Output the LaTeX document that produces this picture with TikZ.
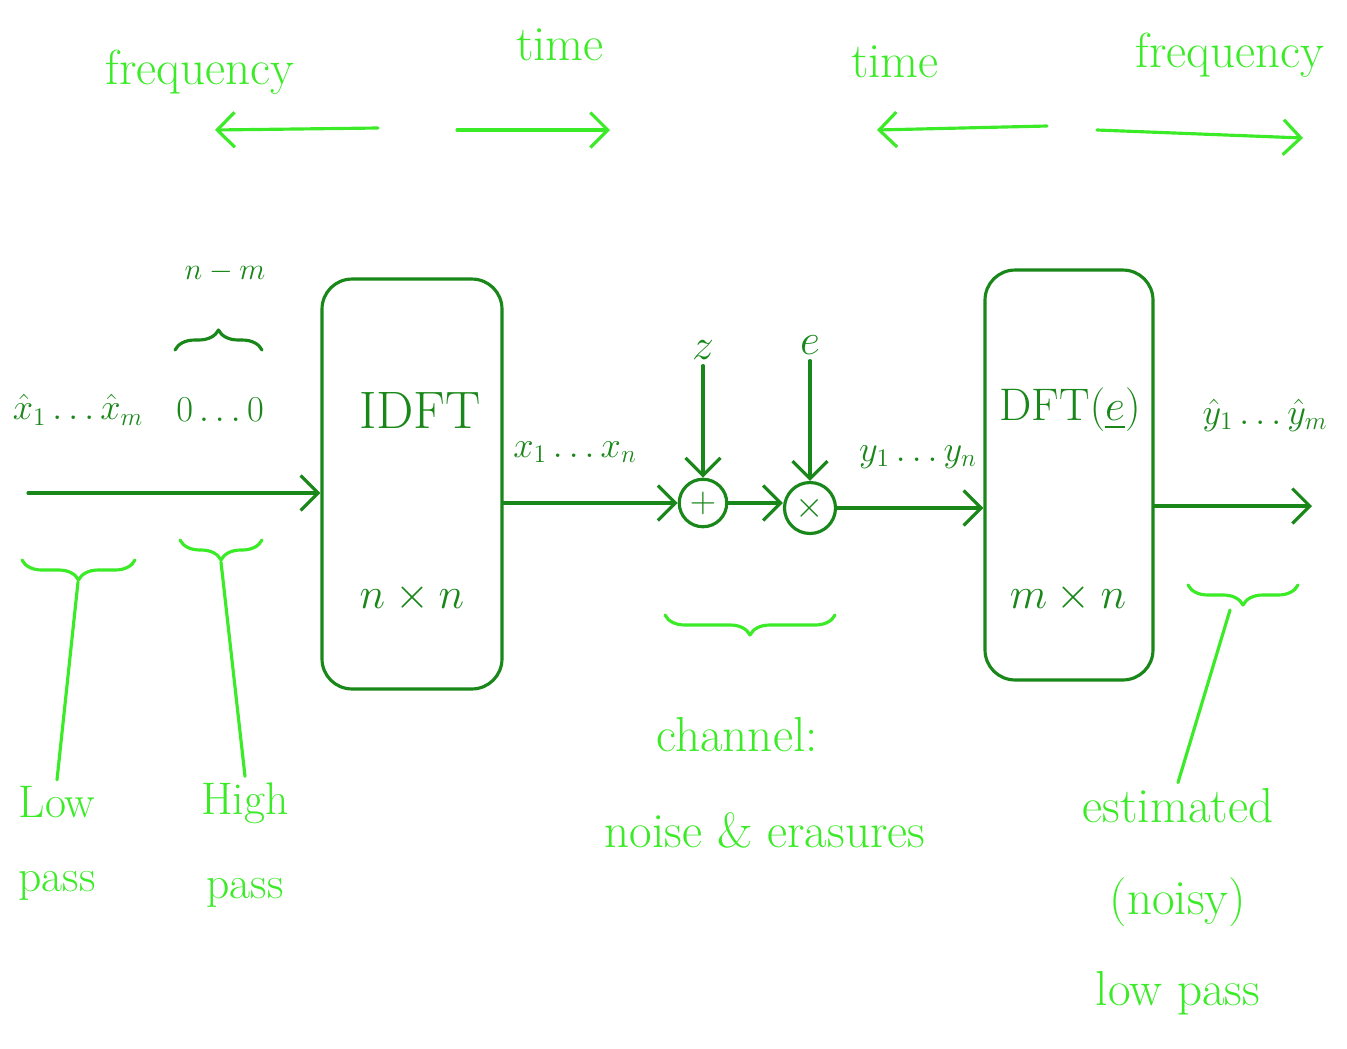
\documentclass[tikz,border=0pt]{standalone}
\usepackage{amsmath}
\usetikzlibrary{arrows.meta,positioning,decorations.pathreplacing}
\definecolor{lgr}{RGB}{60,235,40}
\definecolor{dgr}{RGB}{25,135,25}

\begin{document}
\begin{tikzpicture}[x=0.02cm,y=-0.02cm,
  pen/.style={line width=1.8pt,line cap=round,line join=round},
  arr/.style={pen,-{Straight Barb[length=3.5mm,width=7mm]}},
  lbl/.style={text=lgr,font=\fontsize{28}{32}\selectfont,align=center},
  sym/.style={text=dgr,font=\fontsize{28}{32}\selectfont},
  var/.style={text=dgr,font=\fontsize{21}{24}\selectfont},
  blk/.style={draw=dgr,pen,rounded corners=0.6cm,minimum width=3.6cm,minimum height=8.2cm},
  op/.style={draw=dgr,pen,circle,minimum size=0.95cm,inner sep=0pt,text=dgr,font=\fontsize{20}{22}\selectfont},
  brc/.style={pen,decorate,decoration={brace,amplitude=0.4cm}}]
  \useasboundingbox (0,0) rectangle (1347,1049);
  % time / frequency directions
  \node[lbl] (f1) at (200,72) {frequency};
  \node[lbl] (t1) at (560,45) {time};
  \node[lbl] (t2) at (895,62) {time};
  \node[lbl] (f2) at (1230,55) {frequency};
  \coordinate (a1) at (378,128); \coordinate (b1) at (215,130);
  \coordinate (a2) at (457,130); \coordinate (b2) at (610,130);
  \coordinate (a3) at (1047,126); \coordinate (b3) at (877,130);
  \coordinate (a4) at (1097,130); \coordinate (b4) at (1303,138);
  \foreach \i in {1,...,4} \draw[arr,lgr] (a\i) -- (b\i);
  % transforms
  \node[blk] (idft) at (412,484) {};
  \node[sym,font=\fontsize{30}{34}\selectfont] (idftt) at (420,410) {IDFT};
  \node[sym,font=\fontsize{32}{36}\selectfont] (idftd) at (412,598) {$n\times n$};
  \node[blk,minimum width=3.36cm] (dft) at (1069,475) {};
  \node[sym,font=\fontsize{26}{30}\selectfont] (dftt) at (1070,410) {DFT$(\underline{e})$};
  \node[sym,font=\fontsize{30}{34}\selectfont] (dftd) at (1068,598) {$m\times n$};
  % channel
  \node[op] (add) at (703,503) {$+$};
  \node[op,minimum size=1.02cm] (mul) at (810,508) {$\times$};
  \node[sym] (z) at (703,350) {$z$};
  \node[sym] (e) at (810,345) {$e$};
  \draw[arr,dgr] (z) -- (add);
  \draw[arr,dgr] (e) -- (mul);
  % signal path
  \coordinate (in) at (28,493);
  \coordinate (out) at (1312,506);
  \draw[arr,dgr] (in) -- (in -| idft.west);
  \draw[arr,dgr] (idft.east |- add) -- (add);
  \draw[arr,dgr] (add) -- (add -| mul.west);
  \draw[arr,dgr] (mul) -- (mul -| dft.west);
  \draw[arr,dgr] (out -| dft.east) -- (out);
  \node[var] (xin) at (78,410) {$\hat{x}_1\ldots\hat{x}_m$};
  \node[var] (zer) at (220,410) {$0\ldots0$};
  \node[var,font=\fontsize{18}{22}\selectfont] (nm) at (225,272) {$n-m$};
  \draw[brc,dgr] (175,350) -- (262,350);
  \node[var] (xn) at (575,452) {$x_1\ldots x_n$};
  \node[var] (yn) at (918,457) {$y_1\ldots y_n$};
  \node[var] (yout) at (1265,415) {$\hat{y}_1\ldots\hat{y}_m$};
  % annotations
  \draw[brc,lgr] (135,560) -- (22,560);
  \draw[brc,lgr] (262,540) -- (180,540);
  \draw[brc,lgr] (835,615) -- (665,615);
  \draw[brc,lgr] (1298,585) -- (1188,585);
  \coordinate (blo) at (78,582);
  \coordinate (bhi) at (221,562);
  \coordinate (bes) at (1230,610);
  \node[lbl,font=\fontsize{26}{42}\selectfont] (low) at (57,843) {Low\\pass};
  \node[lbl,font=\fontsize{26}{48}\selectfont] (high) at (245,845) {High\\pass};
  \node[lbl] (chan) at (737,735) {channel:};
  \node[lbl] (noise) at (765,830) {noise \& erasures};
  \node[lbl,font=\fontsize{28}{52}\selectfont] (est) at (1178,902) {estimated\\(noisy)\\low pass};
  \draw[pen,lgr] (blo) -- (low.north);
  \draw[pen,lgr] (bhi) -- (high.north);
  \draw[pen,lgr] (bes) -- (est.north);
\end{tikzpicture}
\end{document}
